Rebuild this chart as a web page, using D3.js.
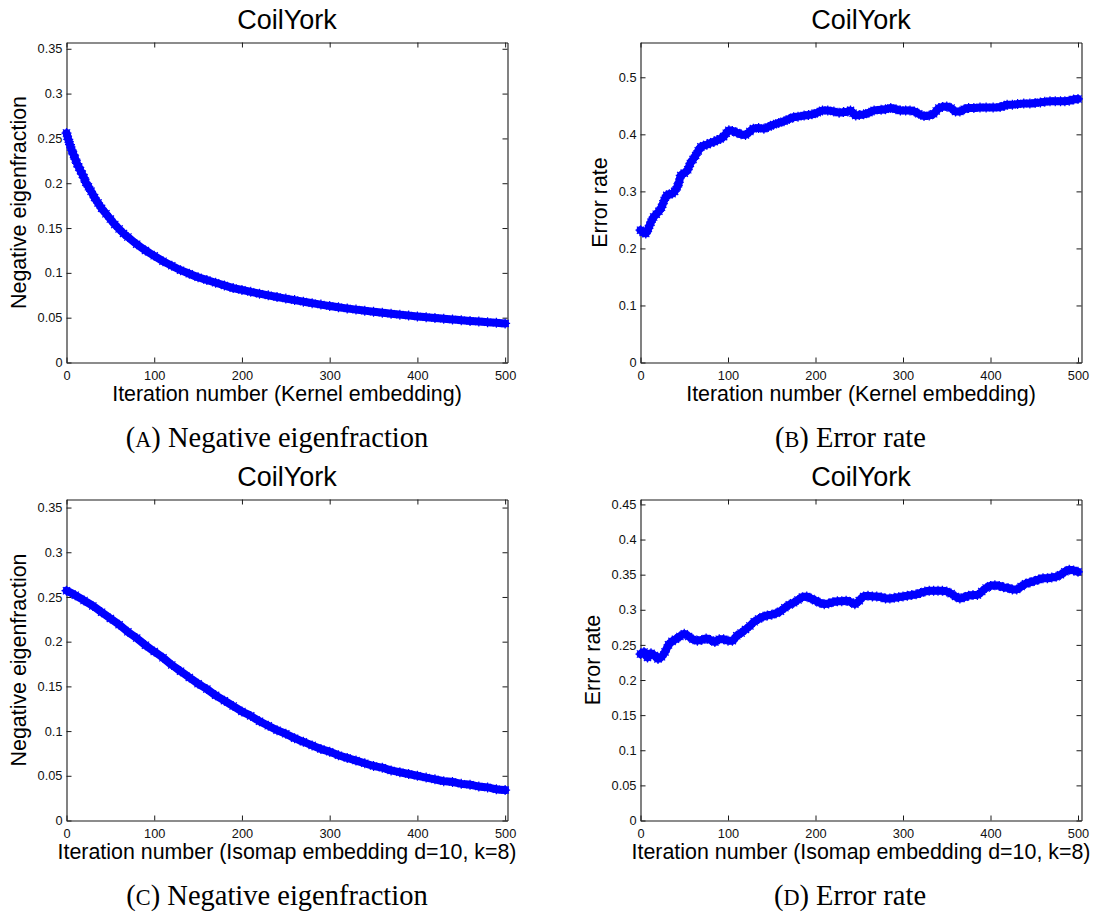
<!DOCTYPE html>
<html>
<head>
<meta charset="utf-8">
<script src="https://cdn.jsdelivr.net/npm/d3@7"></script>
<style>
  body { margin: 0; background: #ffffff; }
  svg { display: block; }
</style>
</head>
<body>
<svg id="fig" width="1099" height="916"></svg>
<script>
// ---------- data ----------
// (A) kernel embedding: negative eigenfraction per iteration
const kernelIter = [0, 2, 4, 6, 8, 10, 12, 14, 16, 18, 20, 22, 25, 28, 32, 36, 40, 45, 50, 55, 60, 65, 70,
  80, 90, 100, 110, 120, 130, 140, 150, 160, 170, 180, 190, 200, 210, 220, 230, 240, 250, 260, 270, 280, 290,
  300, 310, 320, 330, 340, 350, 360, 370, 380, 390, 400, 410, 420, 430, 440, 450, 460, 470, 480, 490, 500];
const kernelEigen = [0.256, 0.249, 0.243, 0.237, 0.232, 0.227, 0.222, 0.218, 0.214, 0.210, 0.206, 0.201,
  0.196, 0.191, 0.184, 0.178, 0.172, 0.166, 0.160, 0.154, 0.149, 0.144, 0.140,
  0.132, 0.125, 0.119, 0.113, 0.108, 0.103, 0.099, 0.095, 0.092, 0.089, 0.086, 0.083, 0.081,
  0.0788, 0.0768, 0.0749, 0.0731, 0.0713, 0.0696, 0.0679, 0.0662, 0.0646, 0.0630,
  0.0616, 0.0603, 0.0590, 0.0578, 0.0566, 0.0555, 0.0544, 0.0534, 0.0524, 0.0514,
  0.0505, 0.0496, 0.0488, 0.0480, 0.0472, 0.0464, 0.0457, 0.0450, 0.0443, 0.0436];

// (B) kernel embedding: error rate per iteration
const kernelErrIter = [0, 3, 6, 9, 12, 15, 18, 21, 24, 27, 30, 33, 36, 39, 42, 44, 46, 50, 54, 57, 60, 63, 66, 69,
  72, 76, 80, 84, 88, 91, 95, 98, 101, 105, 110, 115, 120, 125, 129, 135, 141, 146, 152, 158, 164, 170, 175,
  180, 187, 192, 196, 202, 208, 214, 221, 227, 232, 237, 240, 243, 246, 250, 255, 261, 267, 275, 280, 286,
  292, 297, 303, 308, 313, 318, 324, 330, 335, 338, 341, 345, 350, 355, 360, 365, 370, 375, 381, 388, 395,
  403, 411, 416, 419, 425, 431, 438, 445, 451, 457, 462, 468, 474, 480, 485, 490, 495, 500];
const kernelErr = [0.232, 0.228, 0.226, 0.235, 0.246, 0.255, 0.260, 0.265, 0.272, 0.284, 0.293, 0.295, 0.296,
  0.300, 0.308, 0.316, 0.328, 0.332, 0.338, 0.349, 0.356, 0.363, 0.371, 0.378,
  0.380, 0.382, 0.385, 0.387, 0.390, 0.392, 0.396, 0.402, 0.407, 0.406, 0.403, 0.400, 0.399, 0.405, 0.410,
  0.411, 0.410, 0.413, 0.417, 0.420, 0.423, 0.427, 0.430,
  0.431, 0.433, 0.434, 0.435, 0.438, 0.442, 0.442, 0.440, 0.438, 0.439, 0.440, 0.442, 0.437, 0.433, 0.434,
  0.435, 0.438, 0.442, 0.443, 0.444, 0.446,
  0.444, 0.442, 0.442, 0.442, 0.440, 0.436, 0.432, 0.433, 0.436, 0.441, 0.446, 0.448, 0.449, 0.446, 0.440,
  0.440, 0.444, 0.446, 0.446, 0.447, 0.447,
  0.447, 0.448, 0.450, 0.452, 0.452, 0.453, 0.454, 0.454, 0.455, 0.456, 0.457, 0.458, 0.458, 0.458, 0.458,
  0.459, 0.461, 0.462];

// (C) Isomap embedding: negative eigenfraction per iteration
const isoIter = [0, 10, 20, 30, 40, 50, 60, 70, 80, 90, 100, 110, 120, 130, 140, 150, 160, 170, 180, 190, 200,
  210, 220, 230, 240, 250, 260, 270, 280, 290, 300, 310, 320, 330, 340, 350, 360, 370, 380, 390, 400,
  410, 420, 430, 440, 450, 460, 470, 480, 490, 500];
const isoEigen = [0.257, 0.252, 0.246, 0.240, 0.233, 0.226, 0.219, 0.211, 0.204, 0.196, 0.189,
  0.182, 0.174, 0.167, 0.160, 0.153, 0.147, 0.140, 0.134, 0.128, 0.122,
  0.117, 0.111, 0.106, 0.101, 0.097, 0.092, 0.088, 0.084, 0.080, 0.077,
  0.073, 0.070, 0.067, 0.064, 0.061, 0.059, 0.056, 0.054, 0.052, 0.050,
  0.048, 0.046, 0.044, 0.043, 0.041, 0.040, 0.038, 0.037, 0.035, 0.034];

// (D) Isomap embedding: error rate per iteration
const isoErrIter = [0, 4, 8, 12, 16, 20, 24, 28, 32, 36, 40,
  45, 50, 55, 60, 65, 70, 75, 80, 85, 90, 95, 100, 105, 110, 115, 120, 125, 130, 135, 140,
  145, 150, 155, 160, 165, 170, 175, 180, 185, 190, 195, 200, 205, 210, 215, 220, 225, 230, 235, 240,
  245, 250, 255, 260, 265, 270, 275, 280, 285, 290, 295, 300, 305, 310, 315, 320, 325, 330, 335, 340,
  345, 350, 355, 360, 365, 370, 375, 380, 385, 390, 395, 400, 405, 410, 415, 420, 425, 430, 435, 440,
  445, 450, 455, 460, 465, 470, 475, 480, 485, 490, 495, 500];
const isoErr = [0.237, 0.240, 0.232, 0.238, 0.235, 0.230, 0.233, 0.240, 0.250, 0.255, 0.258,
  0.262, 0.266, 0.262, 0.258, 0.256, 0.257, 0.259, 0.257, 0.254, 0.258,
  0.258, 0.256, 0.256, 0.263, 0.267, 0.272, 0.277, 0.283, 0.287, 0.290,
  0.292, 0.293, 0.295, 0.298, 0.303, 0.307, 0.310, 0.314, 0.318, 0.319,
  0.316, 0.313, 0.310, 0.308, 0.309, 0.311, 0.312, 0.312, 0.313, 0.311,
  0.308, 0.313, 0.319, 0.320, 0.319, 0.319, 0.318, 0.316, 0.316, 0.317,
  0.318, 0.319, 0.320, 0.321, 0.322, 0.324, 0.326, 0.327, 0.327, 0.327,
  0.327, 0.326, 0.323, 0.319, 0.316, 0.318, 0.320, 0.321, 0.321, 0.326,
  0.331, 0.334, 0.335, 0.334, 0.332, 0.331, 0.329, 0.329, 0.333, 0.337,
  0.339, 0.341, 0.343, 0.345, 0.345, 0.346, 0.347, 0.350, 0.354, 0.357,
  0.356, 0.354];

// ---------- ticks and labels ----------
const xTicks = [0, 100, 200, 300, 400, 500];
const xTickLabels = ["0", "100", "200", "300", "400", "500"];
const eigenTicks = [0, 0.05, 0.1, 0.15, 0.2, 0.25, 0.3, 0.35];
const eigenTickLabels = ["0", "0.05", "0.1", "0.15", "0.2", "0.25", "0.3", "0.35"];
const errTicksKernel = [0, 0.1, 0.2, 0.3, 0.4, 0.5];
const errTickLabelsKernel = ["0", "0.1", "0.2", "0.3", "0.4", "0.5"];
const errTicksIso = [0, 0.05, 0.1, 0.15, 0.2, 0.25, 0.3, 0.35, 0.4, 0.45];
const errTickLabelsIso = ["0", "0.05", "0.1", "0.15", "0.2", "0.25", "0.3", "0.35", "0.4", "0.45"];

const titleText = "CoilYork";
const xLabels = ["Iteration number (Kernel embedding)", "Iteration number (Isomap embedding d=10, k=8)"];
const yLabels = ["Negative eigenfraction", "Error rate"];
const captionLetters = ["A", "B", "C", "D"];
const captionTexts = ["Negative eigenfraction", "Error rate", "Negative eigenfraction", "Error rate"];

// ---------- layout ----------
const SANS = "'Liberation Sans', Arial, Helvetica, sans-serif";
const SERIF = "'Liberation Serif', 'Times New Roman', Times, serif";
const BLUE = "#0000ff";

const panels = [
  { xs: kernelIter, ys: kernelEigen, left: 66.5, right: 507.5, top: 42.5, bottom: 362.5, xMax: 502.7, yMax: 0.357,
    yTicks: eigenTicks, yTickLabels: eigenTickLabels, xLabel: xLabels[0], yLabel: yLabels[0], yLabelX: 26,
    capX: 277, capY: 447, cap: 0 },
  { xs: kernelErrIter, ys: kernelErr, left: 640.5, right: 1081.5, top: 42.5, bottom: 362.5, xMax: 504, yMax: 0.561,
    yTicks: errTicksKernel, yTickLabels: errTickLabelsKernel, xLabel: xLabels[0], yLabel: yLabels[1], yLabelX: 606.5,
    capX: 850.5, capY: 447, cap: 1 },
  { xs: isoIter, ys: isoEigen, left: 66.5, right: 507.5, top: 499.5, bottom: 820.5, xMax: 502.7, yMax: 0.359,
    yTicks: eigenTicks, yTickLabels: eigenTickLabels, xLabel: xLabels[1], yLabel: yLabels[0], yLabelX: 26,
    capX: 277, capY: 905, cap: 2 },
  { xs: isoErrIter, ys: isoErr, left: 640.5, right: 1081.5, top: 499.5, bottom: 820.5, xMax: 504, yMax: 0.457,
    yTicks: errTicksIso, yTickLabels: errTickLabelsIso, xLabel: xLabels[1], yLabel: yLabels[1], yLabelX: 599.5,
    capX: 850, capY: 905, cap: 3 }
];

const svg = d3.select("#fig");
svg.append("rect").attr("width", 1099).attr("height", 916).attr("fill", "#ffffff");

// asterisk marker, like MATLAB's '*'
const R = 5, A = R * 0.72;
const starPath = `M${-R},0L${R},0M0,${-R}L0,${R}M${-A},${-A}L${A},${A}M${-A},${A}L${A},${-A}`;

function styleAxis(g) {
  g.attr("font-family", SANS).attr("font-size", 12.8);
  g.selectAll("path.domain").attr("stroke", "#1a1a1a").attr("stroke-width", 1.1);
  g.selectAll(".tick line").attr("stroke", "#1a1a1a").attr("stroke-width", 1);
  g.selectAll(".tick text").attr("fill", "#111");
}

function drawPanel(p) {
  const x = d3.scaleLinear().domain([0, p.xMax]).range([p.left, p.right]);
  const y = d3.scaleLinear().domain([0, p.yMax]).range([p.bottom, p.top]);
  const g = svg.append("g");

  // frame with inward ticks on all four sides
  g.append("g").attr("transform", `translate(0,${p.bottom})`)
    .call(d3.axisBottom(x).tickValues(xTicks).tickFormat((d, i) => xTickLabels[i])
      .tickSizeInner(-5).tickSizeOuter(0).tickPadding(8))
    .call(styleAxis);
  g.append("g").attr("transform", `translate(0,${p.top})`)
    .call(d3.axisTop(x).tickValues(xTicks).tickFormat("").tickSizeInner(-5).tickSizeOuter(0))
    .call(styleAxis);
  g.append("g").attr("transform", `translate(${p.left},0)`)
    .call(d3.axisLeft(y).tickValues(p.yTicks).tickFormat((d, i) => p.yTickLabels[i])
      .tickSizeInner(-5).tickSizeOuter(0).tickPadding(4))
    .call(styleAxis);
  g.append("g").attr("transform", `translate(${p.right},0)`)
    .call(d3.axisRight(y).tickValues(p.yTicks).tickFormat("").tickSizeInner(-5).tickSizeOuter(0))
    .call(styleAxis);

  // series: dense band of asterisks
  const line = d3.line().x((d, i) => x(p.xs[i])).y(d => y(d)).curve(d3.curveMonotoneX);
  g.append("path").datum(p.ys).attr("d", line)
    .attr("fill", "none").attr("stroke", BLUE).attr("stroke-width", 8)
    .attr("stroke-linejoin", "round").attr("stroke-linecap", "round");
  g.append("g").selectAll("path").data(p.ys).join("path")
    .attr("transform", (d, i) => `translate(${x(p.xs[i])},${y(d)})`)
    .attr("d", starPath).attr("fill", "none").attr("stroke", BLUE).attr("stroke-width", 1.2);

  // title
  const cx = (p.left + p.right) / 2;
  g.append("text").attr("x", cx).attr("y", p.top - 13.5).attr("text-anchor", "middle")
    .attr("font-family", SANS).attr("font-size", 27).attr("fill", "#000").text(titleText);
  // x label
  g.append("text").attr("x", cx).attr("y", p.bottom + 38.5).attr("text-anchor", "middle")
    .attr("font-family", SANS).attr("font-size", 21.4).attr("fill", "#000").text(p.xLabel);
  // y label
  const cy = (p.top + p.bottom) / 2;
  g.append("text").attr("transform", `translate(${p.yLabelX},${cy}) rotate(-90)`).attr("text-anchor", "middle")
    .attr("font-family", SANS).attr("font-size", 21.4).attr("fill", "#000").text(p.yLabel);

  // caption, with small-capital letter
  const cap = g.append("text").attr("x", p.capX).attr("y", p.capY).attr("text-anchor", "middle")
    .attr("font-family", SERIF).attr("font-size", 28.5).attr("fill", "#000");
  cap.append("tspan").text("(");
  cap.append("tspan").attr("font-size", "0.78em").text(captionLetters[p.cap]);
  cap.append("tspan").text(") " + captionTexts[p.cap]);
}

panels.forEach(drawPanel);
</script>
</body>
</html>
